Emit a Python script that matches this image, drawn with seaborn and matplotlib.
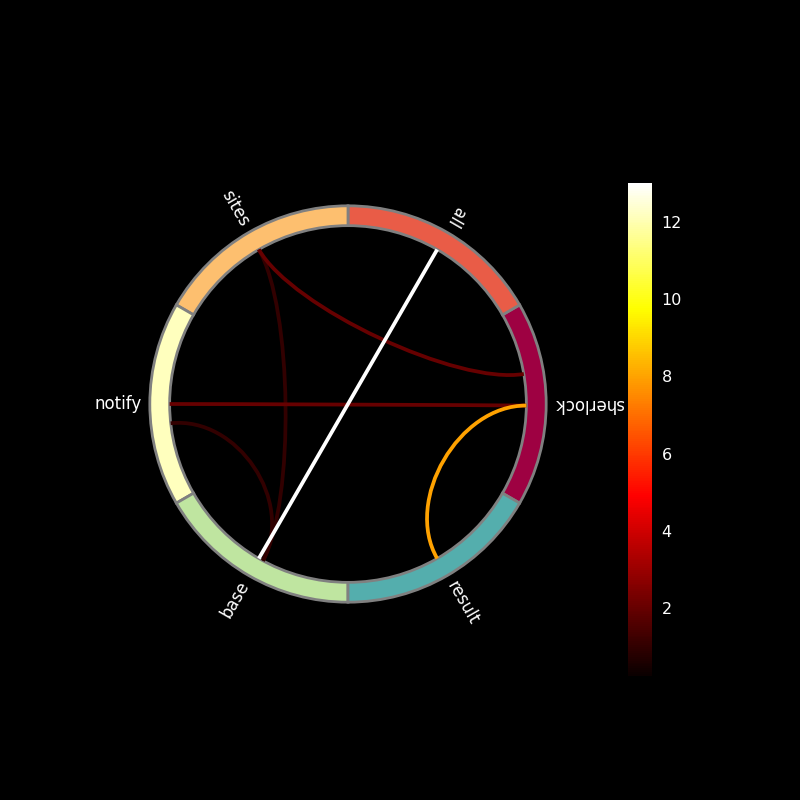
import numpy as np
import matplotlib
matplotlib.use("Agg")
import matplotlib.pyplot as plt
import matplotlib.path as mpath
import matplotlib.patches as mpatches
import seaborn as sns

# ---- data ----
node_names = ["sherlock", "all", "sites", "notify", "base", "result"]
con_source = ["all", "sherlock", "sherlock", "sherlock", "sites", "notify"]
con_target = ["base", "result", "notify", "sites", "base", "base"]
con_values = [13, 8, 2, 2, 1, 1]
vmin, vmax = 0.25, 13.0

# ---- layout (endpoint angular offsets in degrees, per chord) ----
src_offset_deg = [0.0, -0.5, -0.5, 9.7, 0.0, 6.2]
tgt_offset_deg = [0.0, 0.0, 0.0, 0.0, 1.5, 1.5]
ctrl_r = 5.6

sns.set_style("dark")
plt.rcParams["font.family"] = ["DejaVu Sans"]

fig = plt.figure(figsize=(8, 8), dpi=100, facecolor="black")
ax = fig.add_axes([130 / 800, (800 - 404 - 218) / 800, 436 / 800, 436 / 800],
                  projection="polar")
ax.set_facecolor("black")
ax.grid(False)
ax.set_xticks([])
ax.set_yticks([])
ax.spines["polar"].set_visible(False)
ax.set_ylim(0, 11)

n = len(node_names)
node_angles = np.arange(n) * 2 * np.pi / n
node_width = 2 * np.pi / n
node_colors = plt.get_cmap("Spectral")(np.arange(n) / n)

bars = ax.bar(node_angles, np.ones(n), width=node_width, bottom=9,
              edgecolor="#808080", linewidth=2, facecolor=".9", align="center")
for b, c in zip(bars, node_colors):
    b.set_facecolor(c)

cmap = plt.get_cmap("hot")
norm = plt.Normalize(vmin, vmax)
idx = {name: i for i, name in enumerate(node_names)}
order = np.argsort(con_values, kind="stable")
for k in order:
    t0 = node_angles[idx[con_source[k]]] + np.deg2rad(src_offset_deg[k])
    t1 = node_angles[idx[con_target[k]]] + np.deg2rad(tgt_offset_deg[k])
    verts = [(t0, 9), (t0, ctrl_r), (t1, ctrl_r), (t1, 9)]
    codes = [mpath.Path.MOVETO, mpath.Path.CURVE4, mpath.Path.CURVE4, mpath.Path.CURVE4]
    patch = mpatches.PathPatch(mpath.Path(verts, codes), fill=False,
                               edgecolor=cmap(norm(con_values[k])), linewidth=2.7)
    ax.add_patch(patch)

for name, ang in zip(node_names, node_angles):
    deg = np.rad2deg(ang)
    if deg >= 270:
        ha = "left"
    else:
        deg += 180
        ha = "right"
    ax.text(ang, 10.4, name, size=12, rotation=deg, rotation_mode="anchor",
            ha=ha, va="center", color="white")

cax = fig.add_axes([628 / 800, (800 - 676) / 800, 24 / 800, 493 / 800])
sm = plt.cm.ScalarMappable(cmap=cmap, norm=norm)
cb = fig.colorbar(sm, cax=cax)
cb.outline.set_visible(False)
cb.set_ticks([2, 4, 6, 8, 10, 12])
cax.tick_params(colors="black", labelcolor="white", labelsize=11.5)

fig.savefig("out.png", dpi=100, facecolor="black")
